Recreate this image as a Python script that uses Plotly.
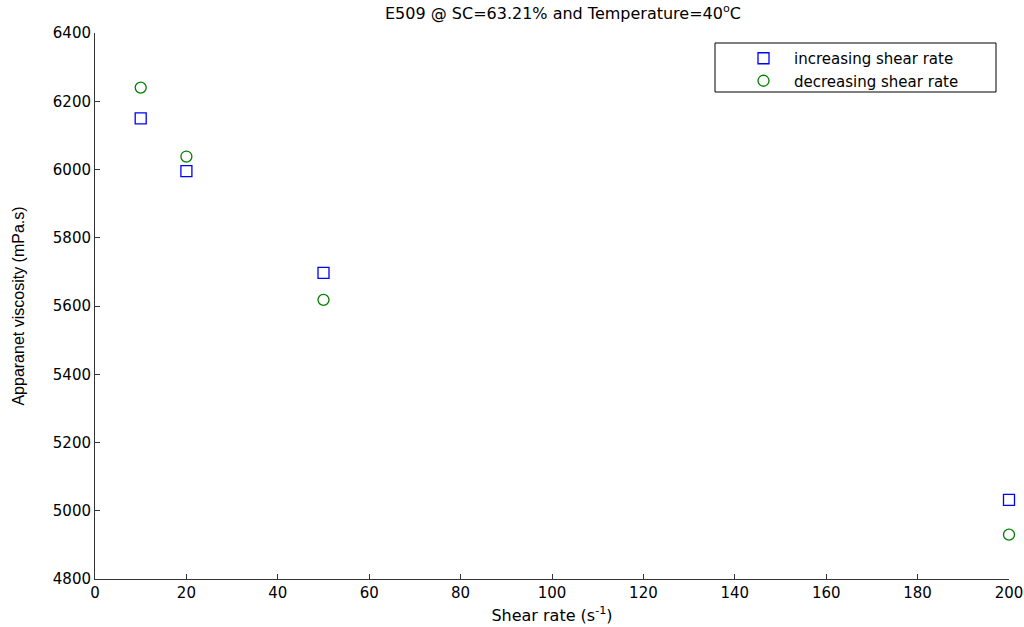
import plotly.graph_objects as go

shear_rate = [10, 20, 50, 200]
increasing = [6150, 5995, 5697, 5032]
decreasing = [6240, 6038, 5618, 4930]

x_ticks = list(range(0, 201, 20))
y_ticks = list(range(4800, 6401, 200))

font = "DejaVu Sans, Arial, sans-serif"
font2 = "Liberation Sans, Arial, sans-serif"

L, R, T, B = 95, 1009, 33, 579
W, H = 1024, 627


def px(xp):
    return (xp - L) / (R - L)


def py(yp):
    return (B - yp) / (B - T)


fig = go.Figure()
fig.add_trace(go.Scatter(
    x=shear_rate, y=increasing, mode="markers", name="increasing shear rate",
    cliponaxis=False,
    marker=dict(symbol="square-open", size=11, color="#0000ff", line=dict(width=1.3, color="#0000ff")),
))
fig.add_trace(go.Scatter(
    x=shear_rate, y=decreasing, mode="markers", name="decreasing shear rate",
    cliponaxis=False,
    marker=dict(symbol="circle-open", size=11, color="#008000", line=dict(width=1.3, color="#008000")),
))

# legend frame
fig.add_shape(type="rect", xref="paper", yref="paper",
              x0=px(715), x1=px(996), y0=py(92), y1=py(43),
              line=dict(color="black", width=1), fillcolor="white", layer="below")

fig.update_layout(
    width=W, height=627,
    margin=dict(l=L, r=W - R, t=T, b=H - B, autoexpand=False),
    paper_bgcolor="white", plot_bgcolor="white",
    font=dict(family=font, size=15, color="black"),
    title=dict(text="E509 @ SC=63.21% and Temperature=40<sup>o</sup>C",
               x=563 / W, xanchor="center", y=1 - 13 / H, yanchor="middle",
               font=dict(size=16, family=font, color="black")),
    showlegend=True,
    legend=dict(x=px(733), y=py(42), xanchor="left", yanchor="top",
                bgcolor="rgba(0,0,0,0)", borderwidth=0,
                font=dict(size=15, family=font, color="black"),
                itemwidth=51, tracegroupgap=0),
    xaxis=dict(range=[0, 200], tickvals=x_ticks, ticks="inside", ticklen=5,
               showline=True, linecolor="#333333", linewidth=1, tickcolor="#333333",
               showgrid=False, zeroline=False, mirror=False, automargin=False,
               tickfont=dict(size=15),
               title=dict(text="Shear rate (s<sup>-1</sup>)", standoff=8, font=dict(size=16))),
    yaxis=dict(range=[4800, 6400], tickvals=y_ticks, ticks="inside", ticklen=5,
               showline=True, linecolor="#333333", linewidth=1, tickcolor="#333333",
               showgrid=False, zeroline=False, mirror=False, automargin=False,
               tickfont=dict(size=15),
               title=dict(text="Apparanet viscosity (mPa.s)", standoff=24,
                          font=dict(size=16, family=font2))),
)

fig.write_html("out.html")
